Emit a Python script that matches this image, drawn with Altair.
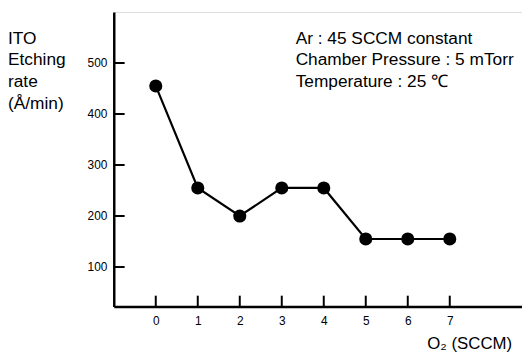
import altair as alt
import pandas as pd

o2_sccm = [0, 1, 2, 3, 4, 5, 6, 7]
etch_rate = [455, 255, 200, 255, 255, 155, 155, 155]
y_ticks = [100, 200, 300, 400, 500]
y_title_lines = ["ITO", "Etching", "rate", "(Å/min)"]
note_lines = ["Ar : 45 SCCM constant", "Chamber Pressure : 5 mTorr", "Temperature : 25 ℃"]
x_title = "O₂ (SCCM)"

FONT = "Liberation Sans"
W, H = 413, 298

df = pd.DataFrame({"x": o2_sccm, "y": etch_rate})
xs = alt.Scale(domain=[-1, 8.72], nice=False, zero=False)
ys = alt.Scale(domain=[22.5, 600], nice=False, zero=False)

base = alt.Chart(df)

line = base.mark_line(color="black", strokeWidth=2.2).encode(
    x=alt.X("x:Q", scale=xs,
            axis=alt.Axis(values=o2_sccm, title=None, tickSize=0, labelPadding=9,
                          domainColor="black", domainWidth=2.5, grid=False,
                          labelFont=FONT, labelFontSize=12, labelColor="black")),
    y=alt.Y("y:Q", scale=ys,
            axis=alt.Axis(values=y_ticks, title=None, tickSize=0, labelPadding=7,
                          domainColor="black", domainWidth=2.5, grid=False,
                          labelFont=FONT, labelFontSize=12, labelColor="black")),
)
points = base.mark_circle(color="black", opacity=1, size=175).encode(
    x=alt.X("x:Q", scale=xs), y=alt.Y("y:Q", scale=ys)
)

ytick_df = pd.DataFrame({"v": y_ticks})
yticks = alt.Chart(ytick_df).mark_rule(color="black", strokeWidth=2).encode(
    y=alt.Y("v:Q", scale=ys), x=alt.value(0), x2=alt.value(11)
)
xtick_df = pd.DataFrame({"v": o2_sccm})
xticks = alt.Chart(xtick_df).mark_rule(color="black", strokeWidth=2).encode(
    x=alt.X("v:Q", scale=xs), y=alt.value(H - 11), y2=alt.value(H)
)

ytitle_df = pd.DataFrame({"t": y_title_lines, "i": list(range(len(y_title_lines)))})
ytitle = alt.Chart(ytitle_df).transform_calculate(
    py="27 + datum.i * 22"
).mark_text(align="left", baseline="middle", font=FONT, fontSize=17.5, color="black").encode(
    text="t:N", x=alt.value(-107), y=alt.Y("py:Q", scale=None)
)

note_df = pd.DataFrame({"t": note_lines, "i": list(range(len(note_lines)))})
notes = alt.Chart(note_df).transform_calculate(
    py="27 + datum.i * 22"
).mark_text(align="left", baseline="middle", font=FONT, fontSize=17.5, color="black").encode(
    text="t:N", x=alt.value(184), y=alt.Y("py:Q", scale=None)
)

xtitle = alt.Chart(pd.DataFrame({"t": [x_title]})).mark_text(
    align="right", baseline="middle", font=FONT, fontSize=17, color="black"
).encode(text="t:N", x=alt.value(403), y=alt.value(336))

chart = alt.layer(line, points, yticks, xticks, ytitle, notes, xtitle).properties(
    width=W, height=H,
    autosize=alt.AutoSizeParams(type="none"),
    padding={"left": 107, "top": 2, "right": 0, "bottom": 48},
).configure_view(stroke=None).configure(background="white")

chart.save("out.html", embed_options={"renderer": "svg", "actions": False})
